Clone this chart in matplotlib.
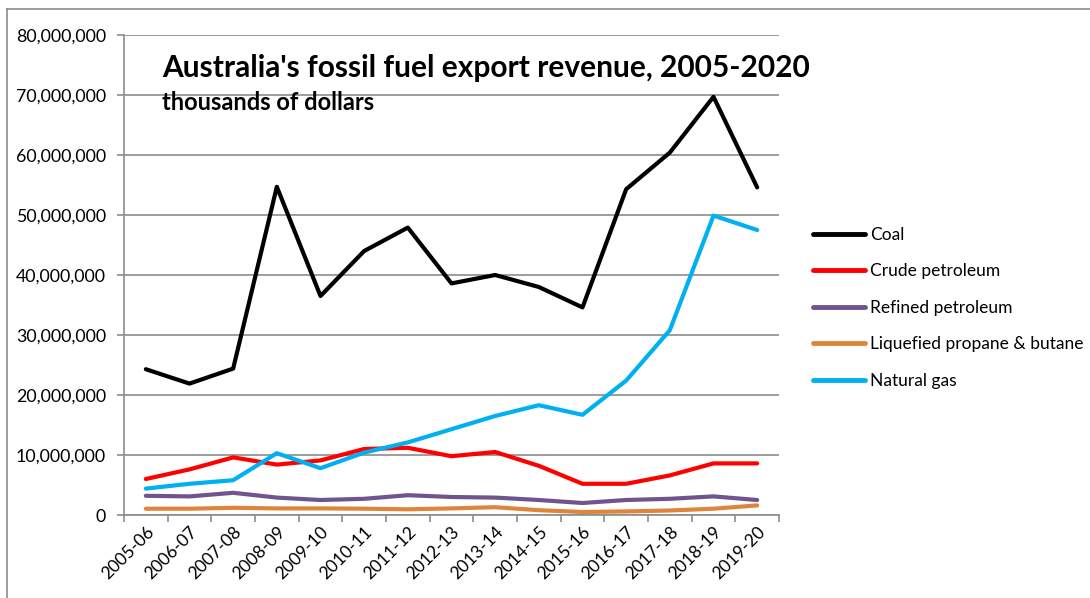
import matplotlib
matplotlib.use("Agg")
import matplotlib.pyplot as plt
from matplotlib.lines import Line2D
from matplotlib.ticker import FuncFormatter, MultipleLocator, FixedLocator

years = ["2005-06", "2006-07", "2007-08", "2008-09", "2009-10", "2010-11", "2011-12",
         "2012-13", "2013-14", "2014-15", "2015-16", "2016-17", "2017-18", "2018-19", "2019-20"]

coal = [24.3, 21.9, 24.4, 54.7, 36.5, 44.0, 47.9, 38.6, 40.0, 38.0, 34.6, 54.3, 60.4, 69.7, 54.6]
crude_petroleum = [6.0, 7.6, 9.6, 8.4, 9.1, 11.0, 11.2, 9.8, 10.5, 8.2, 5.2, 5.2, 6.6, 8.6, 8.6]
refined_petroleum = [3.2, 3.1, 3.7, 2.9, 2.5, 2.7, 3.3, 3.0, 2.9, 2.5, 2.0, 2.5, 2.7, 3.1, 2.5]
lpg = [1.05, 1.05, 1.2, 1.1, 1.1, 1.05, 0.95, 1.1, 1.3, 0.8, 0.5, 0.6, 0.75, 1.05, 1.6]
natural_gas = [4.4, 5.2, 5.8, 10.3, 7.8, 10.4, 12.1, 14.3, 16.5, 18.3, 16.7, 22.4, 30.8, 49.9, 47.5]

series = [
    ("Coal", coal, "#000000"),
    ("Crude petroleum", crude_petroleum, "#FF0000"),
    ("Refined petroleum", refined_petroleum, "#6F548E"),
    ("Liquefied propane & butane", lpg, "#DF853B"),
    ("Natural gas", natural_gas, "#00B0F0"),
]

FONT = ["Lato", "DejaVu Sans"]
plt.rcParams['font.family'] = FONT

fig = plt.figure(figsize=(10.9, 5.98), dpi=100)
ax = fig.add_axes([124 / 1090, 1 - 515 / 598, (779 - 124) / 1090, (515 - 35) / 598])

x = list(range(len(years)))
for name, vals, col in series:
    ax.plot(x, [v * 1e6 for v in vals], color=col, lw=3.0, label=name,
            solid_joinstyle="round", solid_capstyle="round", zorder=3)

ax.set_xlim(-0.5, len(years) - 0.5)
ax.set_ylim(0, 80e6)
ax.yaxis.set_major_locator(MultipleLocator(10e6))
ax.yaxis.set_major_formatter(FuncFormatter(lambda v, p: f"{int(v):,}"))
ax.grid(axis="y", color="#8C8C8C", lw=1.2, zorder=0)
ax.set_axisbelow(True)

ax.xaxis.set_major_locator(FixedLocator(x))
ax.set_xticks([i - 0.5 for i in range(len(years) + 1)], minor=True)
ax.set_xticklabels(years, rotation=45, ha="right", rotation_mode="anchor", fontsize=12.5)
ax.tick_params(axis="x", which="major", length=0, pad=6)
ax.tick_params(axis="x", which="minor", length=5, color="#8C8C8C", width=1.2)
ax.tick_params(axis="y", length=5, color="#8C8C8C", width=1.2, labelsize=12.8, pad=8)

for s in ["top", "right"]:
    ax.spines[s].set_visible(False)
for s in ["left", "bottom"]:
    ax.spines[s].set_color("#8C8C8C")
    ax.spines[s].set_linewidth(1.2)

fig.text(162 / 1090, 1 - 68 / 598, "Australia's fossil fuel export revenue, 2005-2020",
         fontsize=21.5, fontweight="bold", va="center", ha="left")
fig.text(162 / 1090, 1 - 103 / 598, "thousands of dollars",
         fontsize=17, fontweight="bold", va="center", ha="left")

handles = [Line2D([0], [0], color=c, lw=3.5, solid_capstyle="round") for _, _, c in series]
labels = [n for n, _, _ in series]
leg = fig.legend(handles, labels, loc="upper left", bbox_to_anchor=(806 / 1090, 1 - 220 / 598),
                 frameon=False, fontsize=12.5, handlelength=3.0, handletextpad=0.3,
                 labelspacing=1.18, borderaxespad=0)

# outer chart border
fig.add_artist(Line2D([7 / 1090, 1.0], [1 - 9 / 598, 1 - 9 / 598], color="#8C8C8C", lw=1.2,
                      transform=fig.transFigure))
fig.add_artist(Line2D([7 / 1090, 7 / 1090], [0, 1 - 9 / 598], color="#8C8C8C", lw=1.2,
                      transform=fig.transFigure))

fig.savefig("out.png", dpi=100)
